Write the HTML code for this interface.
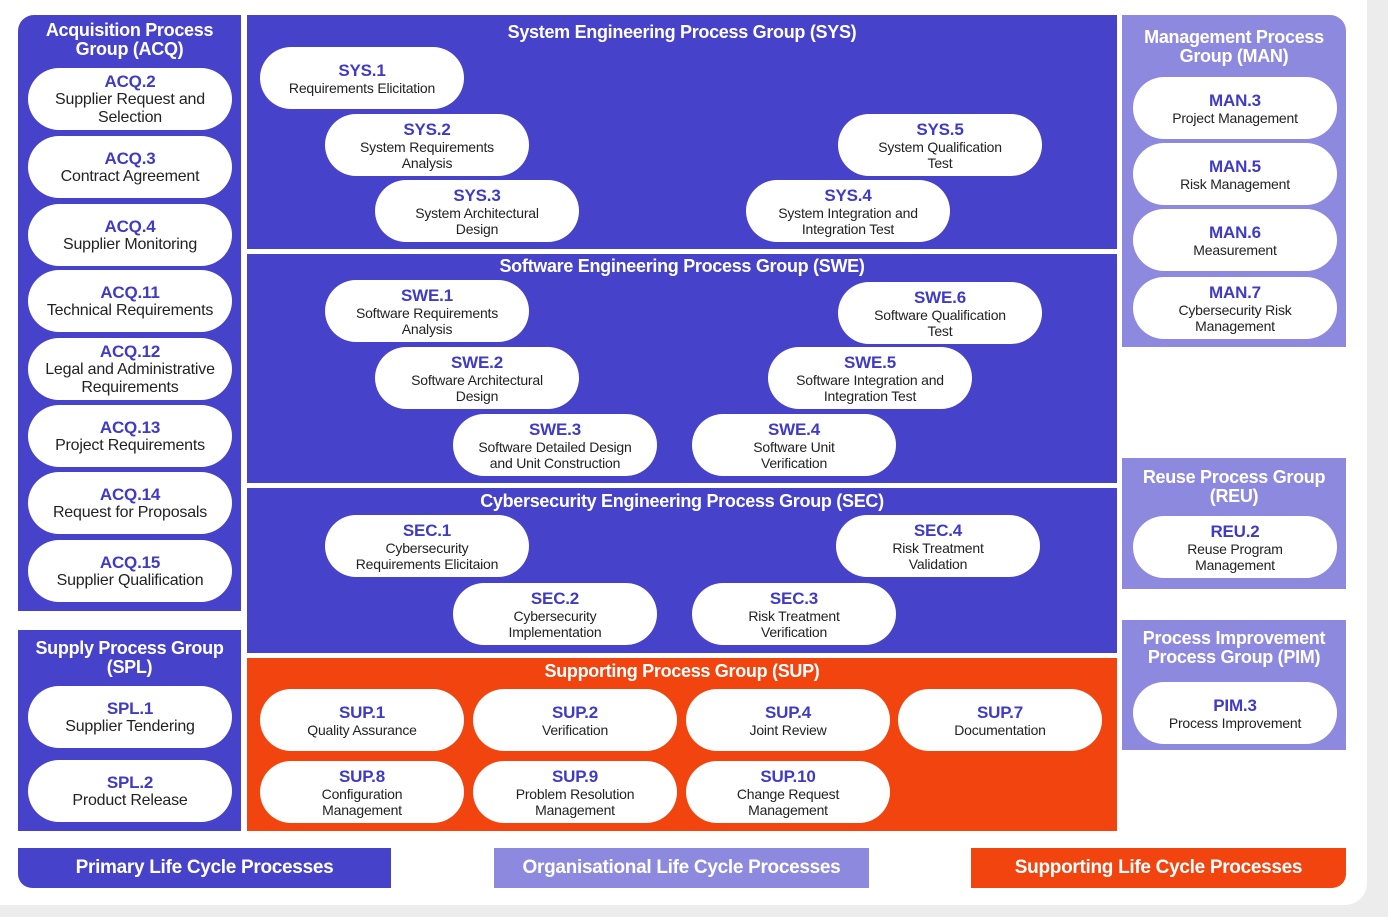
<!DOCTYPE html>
<html><head><meta charset="utf-8"><style>
*{margin:0;padding:0;box-sizing:border-box}
body{width:1388px;height:917px;background:#ececec;position:relative;overflow:hidden;font-family:"Liberation Sans",sans-serif}
.card{position:absolute;left:0;top:0;width:1367px;height:905px;background:#fff;border-radius:0 0 22px 0}
.p{position:absolute}
.b{background:#4642c9}.l{background:#8d89de}.o{background:#f1440f}
.h{position:absolute;left:0;right:0;color:#fff;font-weight:bold;text-align:center;font-size:18px;line-height:19px;letter-spacing:-0.3px}
.pill{position:absolute;width:204px;height:62px;background:#fff;border-radius:31px;text-align:center;display:flex;flex-direction:column;justify-content:center;align-items:center;color:#222;font-size:14px;line-height:16px;letter-spacing:-0.2px}
.pill b{color:#3f3bc4;font-size:17px;line-height:19px}
.big{font-size:16px;line-height:18px}
.leg{position:absolute;top:848px;height:40px;color:#fff;font-weight:bold;font-size:19px;line-height:40px;text-align:center;letter-spacing:-0.3px}
</style></head><body>
<div class="card"></div>

<div class="p b" style="left:18px;top:15px;width:223px;height:596px;border-radius:16px 0 0 0"><div class="h" style="top:6px">Acquisition Process<br>Group (ACQ)</div></div>
<div class="pill big" style="left:28px;top:68px"><b>ACQ.2</b>Supplier Request and<br>Selection</div>
<div class="pill big" style="left:28px;top:136px"><b>ACQ.3</b>Contract Agreement</div>
<div class="pill big" style="left:28px;top:204px"><b>ACQ.4</b>Supplier Monitoring</div>
<div class="pill big" style="left:28px;top:270px"><b>ACQ.11</b>Technical Requirements</div>
<div class="pill big" style="left:28px;top:338px"><b>ACQ.12</b>Legal and Administrative<br>Requirements</div>
<div class="pill big" style="left:28px;top:405px"><b>ACQ.13</b>Project Requirements</div>
<div class="pill big" style="left:28px;top:472px"><b>ACQ.14</b>Request for Proposals</div>
<div class="pill big" style="left:28px;top:540px"><b>ACQ.15</b>Supplier Qualification</div>

<div class="p b" style="left:18px;top:630px;width:223px;height:201px"><div class="h" style="top:9px">Supply Process Group<br>(SPL)</div></div>
<div class="pill big" style="left:28px;top:686px"><b>SPL.1</b>Supplier Tendering</div>
<div class="pill big" style="left:28px;top:760px"><b>SPL.2</b>Product Release</div>

<div class="p b" style="left:247px;top:15px;width:870px;height:234px"><div class="h" style="top:8px">System Engineering Process Group (SYS)</div></div>
<div class="p b" style="left:247px;top:254px;width:870px;height:229px"><div class="h" style="top:3px">Software Engineering Process Group (SWE)</div></div>
<div class="p b" style="left:247px;top:488px;width:870px;height:165px"><div class="h" style="top:4px">Cybersecurity Engineering Process Group (SEC)</div></div>
<div class="p o" style="left:247px;top:658px;width:870px;height:173px"><div class="h" style="top:4px">Supporting Process Group (SUP)</div></div>

<div class="pill" style="left:260px;top:47px"><b>SYS.1</b>Requirements Elicitation</div>
<div class="pill" style="left:325px;top:114px"><b>SYS.2</b>System Requirements<br>Analysis</div>
<div class="pill" style="left:375px;top:180px"><b>SYS.3</b>System Architectural<br>Design</div>
<div class="pill" style="left:838px;top:114px"><b>SYS.5</b>System Qualification<br>Test</div>
<div class="pill" style="left:746px;top:180px"><b>SYS.4</b>System Integration and<br>Integration Test</div>

<div class="pill" style="left:325px;top:280px"><b>SWE.1</b>Software Requirements<br>Analysis</div>
<div class="pill" style="left:838px;top:282px"><b>SWE.6</b>Software Qualification<br>Test</div>
<div class="pill" style="left:375px;top:347px"><b>SWE.2</b>Software Architectural<br>Design</div>
<div class="pill" style="left:768px;top:347px"><b>SWE.5</b>Software Integration and<br>Integration Test</div>
<div class="pill" style="left:453px;top:414px"><b>SWE.3</b>Software Detailed Design<br>and Unit Construction</div>
<div class="pill" style="left:692px;top:414px"><b>SWE.4</b>Software Unit<br>Verification</div>

<div class="pill" style="left:325px;top:515px"><b>SEC.1</b>Cybersecurity<br>Requirements Elicitaion</div>
<div class="pill" style="left:836px;top:515px"><b>SEC.4</b>Risk Treatment<br>Validation</div>
<div class="pill" style="left:453px;top:583px"><b>SEC.2</b>Cybersecurity<br>Implementation</div>
<div class="pill" style="left:692px;top:583px"><b>SEC.3</b>Risk Treatment<br>Verification</div>

<div class="pill" style="left:260px;top:689px"><b>SUP.1</b>Quality Assurance</div>
<div class="pill" style="left:473px;top:689px"><b>SUP.2</b>Verification</div>
<div class="pill" style="left:686px;top:689px"><b>SUP.4</b>Joint Review</div>
<div class="pill" style="left:898px;top:689px"><b>SUP.7</b>Documentation</div>
<div class="pill" style="left:260px;top:761px"><b>SUP.8</b>Configuration<br>Management</div>
<div class="pill" style="left:473px;top:761px"><b>SUP.9</b>Problem Resolution<br>Management</div>
<div class="pill" style="left:686px;top:761px"><b>SUP.10</b>Change Request<br>Management</div>

<div class="p l" style="left:1122px;top:15px;width:224px;height:332px;border-radius:0 16px 0 0"><div class="h" style="top:13px">Management Process<br>Group (MAN)</div></div>
<div class="pill" style="left:1133px;top:77px"><b>MAN.3</b>Project Management</div>
<div class="pill" style="left:1133px;top:143px"><b>MAN.5</b>Risk Management</div>
<div class="pill" style="left:1133px;top:209px"><b>MAN.6</b>Measurement</div>
<div class="pill" style="left:1133px;top:277px"><b>MAN.7</b>Cybersecurity Risk<br>Management</div>

<div class="p l" style="left:1122px;top:458px;width:224px;height:131px"><div class="h" style="top:10px">Reuse Process Group<br>(REU)</div></div>
<div class="pill" style="left:1133px;top:516px"><b>REU.2</b>Reuse Program<br>Management</div>

<div class="p l" style="left:1122px;top:620px;width:224px;height:130px"><div class="h" style="top:9px">Process Improvement<br>Process Group (PIM)</div></div>
<div class="pill" style="left:1133px;top:682px"><b>PIM.3</b>Process Improvement</div>

<div class="leg b" style="left:18px;width:373px;border-radius:0 0 0 14px">Primary Life Cycle Processes</div>
<div class="leg l" style="left:494px;width:375px">Organisational Life Cycle Processes</div>
<div class="leg o" style="left:971px;width:375px;border-radius:0 0 14px 0">Supporting Life Cycle Processes</div>
</body></html>
